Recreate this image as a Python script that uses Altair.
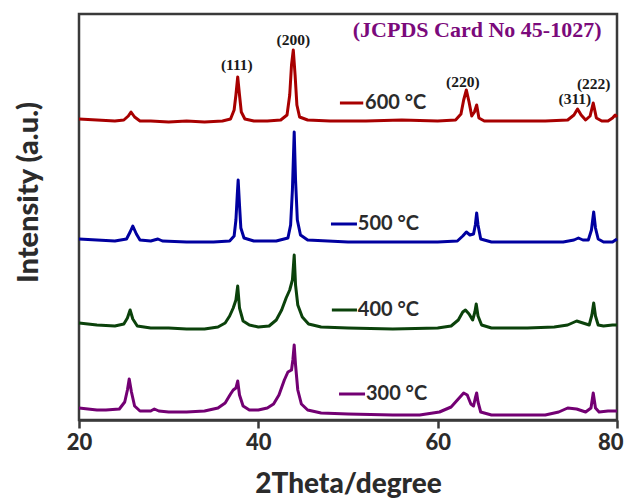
import altair as alt
import pandas as pd

# ---- data (2theta in degrees, intensity in arbitrary units, stacked) ----
x600 = [20.0, 22.0, 24.0, 25.0, 25.5, 25.8, 26.2, 26.8, 28.0, 30.0, 32.0, 34.0, 36.0, 36.9, 37.3, 37.5,
        37.7, 37.9, 38.1, 38.5, 39.5, 41.0, 42.5, 43.2, 43.5, 43.7, 43.9, 44.1, 44.3, 44.6, 45.5, 48.0,
        52.0, 56.0, 60.0, 62.0, 62.6, 62.9, 63.2, 63.5, 63.8, 64.1, 64.35, 64.6, 65.2, 68.0, 72.0, 74.5,
        75.2, 75.6, 76.0, 76.5, 77.0, 77.35, 77.7, 78.3, 79.0, 79.5, 79.8, 80.0]
y600 = [301, 300, 299, 300, 304, 308, 303, 299, 299, 298, 299, 298, 299, 301, 310, 325,
        343, 325, 308, 301, 299, 299, 300, 305, 325, 355, 370, 345, 315, 303, 300, 299,
        299, 300, 299, 300, 306, 320, 330, 318, 304, 308, 315, 302, 299, 299, 299, 300,
        305, 311, 305, 300, 304, 317, 302, 299, 299, 302, 305, 303]

x500 = [20.0, 22.0, 24.0, 25.3, 25.7, 26.0, 26.4, 26.8, 28.0, 28.8, 29.3, 32.0, 35.0, 36.8, 37.3, 37.5,
        37.65, 37.75, 37.9, 38.05, 38.4, 39.5, 42.0, 43.3, 43.6, 43.8, 44.0, 44.15, 44.35, 44.7, 45.5,
        50.0, 55.0, 60.0, 62.2, 62.8, 63.2, 63.6, 64.0, 64.2, 64.35, 64.5, 64.8, 66.0, 70.0, 74.0, 75.2,
        75.7, 76.2, 76.8, 77.15, 77.4, 77.6, 77.9, 78.5, 79.5, 80.0]
y500 = [181, 180, 179, 181, 188, 194, 186, 180, 179, 181, 179, 178, 178, 179, 184, 200,
        225, 240, 215, 192, 182, 179, 179, 182, 195, 230, 288, 240, 200, 185, 180,
        178, 178, 178, 179, 184, 188, 185, 186, 195, 207, 195, 181, 178, 178, 178, 180,
        182, 180, 180, 190, 208, 192, 181, 178, 178, 181]

x400 = [20.0, 22.0, 24.0, 25.0, 25.4, 25.7, 26.0, 26.5, 28.0, 30.0, 32.0, 34.0, 35.5, 36.3, 36.8, 37.2,
        37.5, 37.7, 37.9, 38.3, 39.0, 40.0, 41.2, 42.0, 42.6, 43.1, 43.5, 43.8, 44.0, 44.15, 44.4, 44.9,
        45.6, 47.0, 50.0, 55.0, 60.0, 61.5, 62.3, 62.8, 63.1, 63.5, 63.9, 64.15, 64.3, 64.5, 64.9, 66.0,
        70.0, 73.0, 74.5, 75.5, 76.2, 76.9, 77.2, 77.4, 77.6, 77.9, 78.5, 79.5, 80.0]
y400 = [97, 95, 94, 96, 102, 110, 101, 94, 92, 92, 91, 91, 93, 97, 104, 112,
        120, 134, 112, 99, 95, 93, 94, 100, 110, 122, 130, 140, 165, 135, 115, 103,
        96, 93, 92, 91, 92, 94, 100, 108, 110, 106, 100, 108, 116, 104, 95, 92,
        92, 93, 95, 99, 97, 95, 105, 117, 104, 95, 94, 95, 95]

x300 = [20.0, 21.0, 22.0, 23.0, 24.5, 25.1, 25.4, 25.6, 25.85, 26.2, 26.8, 28.0, 28.4, 28.9, 30.0, 32.0,
        34.0, 35.5, 36.3, 36.9, 37.2, 37.5, 37.7, 37.9, 38.3, 39.0, 40.0, 41.0, 41.7, 42.3, 42.9, 43.3,
        43.7, 43.85, 44.0, 44.15, 44.4, 44.8, 45.5, 47.0, 50.0, 55.0, 58.0, 60.2, 61.5, 62.4, 62.9, 63.3,
        63.7, 64.0, 64.2, 64.35, 64.5, 64.8, 66.0, 70.0, 72.0, 73.5, 74.5, 75.5, 76.5, 77.1, 77.35, 77.6,
        78.0, 79.0, 80.0]
y300 = [12, 11, 10, 10, 11, 18, 30, 41, 28, 14, 9, 9, 11, 9, 8, 8,
        9, 12, 17, 26, 30, 32, 39, 25, 14, 10, 10, 12, 16, 25, 40, 48,
        50, 60, 75, 55, 30, 16, 10, 7, 6, 5, 5, 8, 13, 22, 27, 25,
        16, 14, 22, 27, 18, 8, 5, 5, 5, 8, 12, 11, 8, 12, 27, 12,
        8, 9, 9]

series_names = ["600 °C", "500 °C", "400 °C", "300 °C"]
series_colors = ["#A80000", "#0000A0", "#0B420B", "#730073"]

# peak (hkl) labels
hkl_text = ["(111)", "(200)", "(220)", "(311)", "(222)"]
hkl_x = [37.6, 43.9, 62.8, 75.3, 77.4]
hkl_y = [355, 380, 338, 321, 336]

# inline legend: line start/end and label anchor (data units)
leg_x1 = [49.1, 48.1, 48.2, 49.0]
leg_x2 = [51.7, 51.0, 51.0, 51.9]
leg_y = [317, 196, 110, 26]
leg_tx = [51.9, 51.1, 51.1, 52.0]

card_text = ["(JCPDS Card No 45-1027)"]
card_x = [64.4]
card_y = [390]

# ---- build tables ----
rows = []
for name, xs, ys in zip(series_names, [x600, x500, x400, x300], [y600, y500, y400, y300]):
    for a, b in zip(xs, ys):
        rows.append({"theta": a, "intensity": b, "series": name})
df = pd.DataFrame(rows)

hkl_df = pd.DataFrame({"label": hkl_text, "theta": hkl_x, "intensity": hkl_y})
leg_df = pd.DataFrame({"series": series_names, "x1": leg_x1, "x2": leg_x2, "y": leg_y, "tx": leg_tx})
card_df = pd.DataFrame({"label": card_text, "theta": card_x, "intensity": card_y})

axis_col = "#3a3a3a"
xscale = alt.Scale(domain=[20, 80], nice=False, zero=False)
yscale = alt.Scale(domain=[0, 406], nice=False, zero=False)
cscale = alt.Scale(domain=series_names, range=series_colors)

lines = alt.Chart(df).mark_line(strokeWidth=3, strokeJoin="round").encode(
    x=alt.X("theta:Q", scale=xscale,
            axis=alt.Axis(values=[20, 40, 60, 80], title="2Theta/degree", format="d",
                          labelFont="Lato", labelFontWeight=900, labelFontSize=22,
                          labelColor="#2b2b2b", labelPadding=4, labelFlush=False,
                          labelAlign={"expr": "datum.value == 80 ? 'right' : 'center'"},
                          labelOffset={"expr": "datum.value == 80 ? 6 : 0"},
                          tickSize=8, tickWidth=2.5,
                          tickColor=axis_col, domainColor=axis_col, domainWidth=2.5,
                          titleFont="Lato", titleFontWeight=900, titleFontSize=28,
                          titleColor="#2b2b2b", titleY=64, titleBaseline="middle", grid=False)),
    y=alt.Y("intensity:Q", scale=yscale,
            axis=alt.Axis(title="Intensity (a.u.)", labels=False, ticks=False, domain=False, grid=False,
                          titleFont="Lato", titleFontWeight=900, titleFontSize=29,
                          titleColor="#2b2b2b", titleX=-51, titleY=178,
                          titleBaseline="middle", titleAlign="center")),
    color=alt.Color("series:N", scale=cscale, legend=None),
    detail="series:N",
)

hkl = alt.Chart(hkl_df).mark_text(font="Liberation Serif", fontWeight="bold", fontSize=15.5,
                                  color="#1a1a1a", baseline="middle").encode(
    x=alt.X("theta:Q", scale=xscale), y=alt.Y("intensity:Q", scale=yscale), text="label:N")

card = alt.Chart(card_df).mark_text(font="Liberation Serif", fontWeight="bold", fontSize=22,
                                    color="#7B0A7B", baseline="middle").encode(
    x=alt.X("theta:Q", scale=xscale), y=alt.Y("intensity:Q", scale=yscale), text="label:N")

leg_lines = alt.Chart(leg_df).mark_rule(strokeWidth=3).encode(
    x=alt.X("x1:Q", scale=xscale), x2="x2:Q", y=alt.Y("y:Q", scale=yscale),
    color=alt.Color("series:N", scale=cscale, legend=None))

leg_text = alt.Chart(leg_df).mark_text(font="Lato", fontWeight="bold", fontSize=20, color="#2b2b2b",
                                       align="left", baseline="middle").encode(
    x=alt.X("tx:Q", scale=xscale), y=alt.Y("y:Q", scale=yscale), text="series:N")

chart = alt.layer(lines, hkl, card, leg_lines, leg_text).properties(
    width=538, height=406,
    autosize=alt.AutoSizeParams(type="none"),
    padding={"left": 71, "top": 6, "right": 7, "bottom": 80},
    background="white",
).configure_view(stroke=axis_col, strokeWidth=2.5)

chart.save("out.html", embed_options={"renderer": "svg", "actions": False})
